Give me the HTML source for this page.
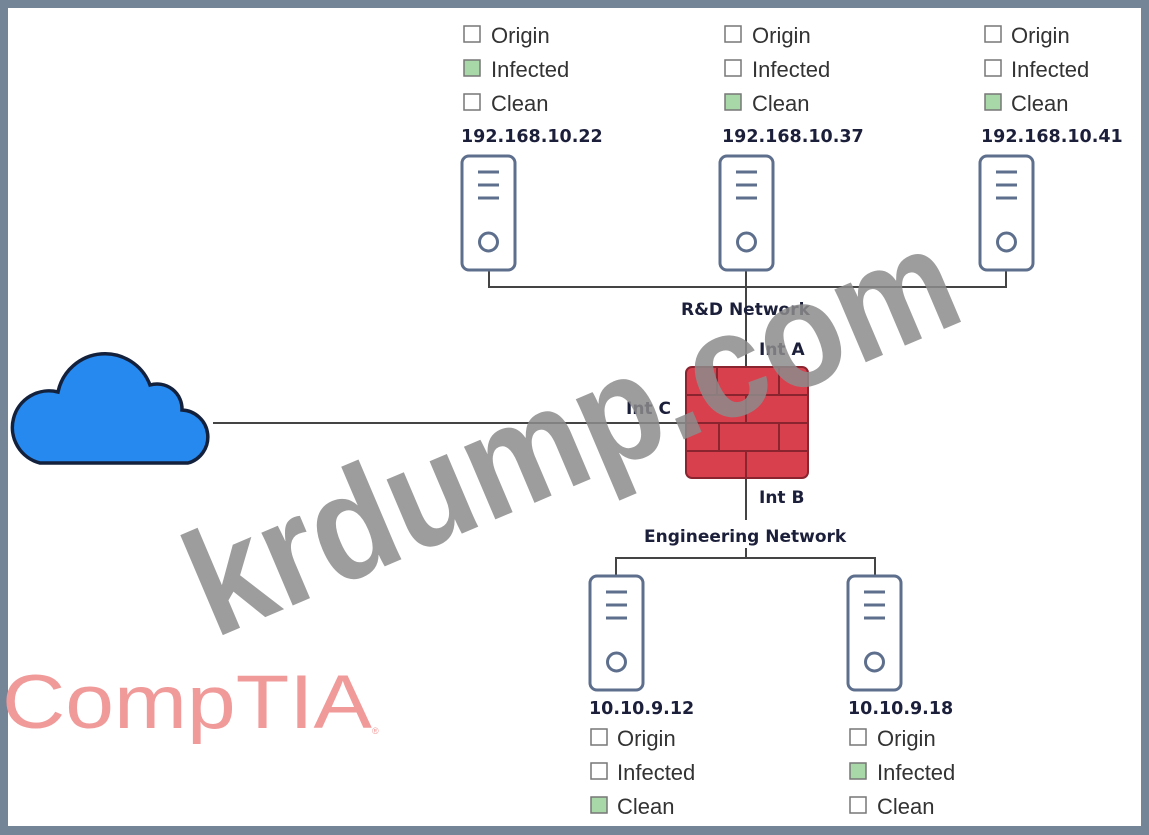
<!DOCTYPE html>
<html><head><meta charset="utf-8"><style>
html,body{margin:0;padding:0;background:#fff}
svg{display:block}
.cb{font-family:"Liberation Sans",sans-serif;font-size:22px;fill:#333}
.ip{font-family:"DejaVu Sans",sans-serif;font-weight:bold;font-size:17.5px;fill:#1c1f3a}
.lb{font-family:"DejaVu Sans",sans-serif;font-weight:bold;font-size:17px;fill:#1c1f3a}
</style></head><body>
<svg width="1149" height="835" viewBox="0 0 1149 835" xmlns="http://www.w3.org/2000/svg">
<rect x="0" y="0" width="1149" height="835" fill="#748597"/>
<rect x="8" y="8" width="1133" height="818" fill="#fff"/>
<defs>
<g id="srv">
<rect x="0" y="0" width="53" height="114" rx="7" fill="#fff" stroke="#5d6f8c" stroke-width="3"/>
<line x1="16" y1="16" x2="37" y2="16" stroke="#5d6f8c" stroke-width="3"/>
<line x1="16" y1="29" x2="37" y2="29" stroke="#5d6f8c" stroke-width="3"/>
<line x1="16" y1="42" x2="37" y2="42" stroke="#5d6f8c" stroke-width="3"/>
<circle cx="26.5" cy="86" r="9" fill="none" stroke="#5d6f8c" stroke-width="3"/>
</g>
<rect id="e" width="16" height="16" fill="#fff" stroke="#777" stroke-width="1.5"/>
<rect id="g" width="16" height="16" fill="#a8d8a8" stroke="#777" stroke-width="1.5"/>
</defs>
<g stroke="#444" stroke-width="2" fill="none">
<polyline points="489,270 489,287 1006,287 1006,270"/>
<line x1="746" y1="270" x2="746" y2="367"/>
<line x1="213" y1="423" x2="688" y2="423"/>
<line x1="746" y1="478" x2="746" y2="520"/>
<line x1="746" y1="548" x2="746" y2="558"/>
<polyline points="616,575 616,558 875,558 875,575"/>
</g>
<use href="#srv" x="462" y="156"/>
<use href="#srv" x="720" y="156"/>
<use href="#srv" x="980" y="156"/>
<use href="#srv" x="590" y="576"/>
<use href="#srv" x="848" y="576"/>
<g>
<rect x="686" y="367" width="122" height="111" rx="6" fill="#d9404e" stroke="#8a2530" stroke-width="2"/>
<g stroke="#8a2530" stroke-width="2">
<line x1="686" y1="395" x2="808" y2="395"/>
<line x1="686" y1="423" x2="808" y2="423"/>
<line x1="686" y1="451" x2="808" y2="451"/>
<line x1="717" y1="367" x2="717" y2="395"/>
<line x1="779" y1="367" x2="779" y2="395"/>
<line x1="746" y1="395" x2="746" y2="423"/>
<line x1="719" y1="423" x2="719" y2="451"/>
<line x1="779" y1="423" x2="779" y2="451"/>
<line x1="746" y1="451" x2="746" y2="478"/>
</g>
</g>
<path d="M40,463 L188,463 A27,27 0 0 0 182,410 A25,25 0 0 0 150,385 A48,48 0 0 0 58,392 A36,36 0 0 0 40,463 Z" fill="#2589f0" stroke="#14213d" stroke-width="3.5"/>
<text class="lb" x="681" y="315">R&amp;D Network</text>
<text class="lb" x="759" y="355">Int A</text>
<text class="lb" x="626" y="414">Int C</text>
<text class="lb" x="759" y="503">Int B</text>
<text class="lb" x="644" y="542">Engineering Network</text>
<use href="#e" x="464" y="26"/><text class="cb" x="491" y="43">Origin</text>
<use href="#g" x="464" y="60"/><text class="cb" x="491" y="77">Infected</text>
<use href="#e" x="464" y="94"/><text class="cb" x="491" y="111">Clean</text>
<text class="ip" x="461" y="142">192.168.10.22</text>
<use href="#e" x="725" y="26"/><text class="cb" x="752" y="43">Origin</text>
<use href="#e" x="725" y="60"/><text class="cb" x="752" y="77">Infected</text>
<use href="#g" x="725" y="94"/><text class="cb" x="752" y="111">Clean</text>
<text class="ip" x="722" y="142">192.168.10.37</text>
<use href="#e" x="985" y="26"/><text class="cb" x="1011" y="43">Origin</text>
<use href="#e" x="985" y="60"/><text class="cb" x="1011" y="77">Infected</text>
<use href="#g" x="985" y="94"/><text class="cb" x="1011" y="111">Clean</text>
<text class="ip" x="981" y="142">192.168.10.41</text>
<text class="ip" x="589" y="714">10.10.9.12</text>
<use href="#e" x="591" y="729"/><text class="cb" x="617" y="746">Origin</text>
<use href="#e" x="591" y="763"/><text class="cb" x="617" y="780">Infected</text>
<use href="#g" x="591" y="797"/><text class="cb" x="617" y="814">Clean</text>
<text class="ip" x="848" y="714">10.10.9.18</text>
<use href="#e" x="850" y="729"/><text class="cb" x="877" y="746">Origin</text>
<use href="#g" x="850" y="763"/><text class="cb" x="877" y="780">Infected</text>
<use href="#e" x="850" y="797"/><text class="cb" x="877" y="814">Clean</text>
<text x="2" y="728" font-family="Liberation Sans,sans-serif" font-size="76" fill="#f09a9a" textLength="370" lengthAdjust="spacingAndGlyphs">CompTIA</text>
<text x="372" y="734" font-family="Liberation Sans,sans-serif" font-size="9" fill="#f09a9a">®</text>
<text x="575" y="482" text-anchor="middle" font-family="Liberation Sans,sans-serif" font-weight="bold" font-size="150" fill="#8c8c8c" fill-opacity="0.85" transform="rotate(-23 575 440)" textLength="820" lengthAdjust="spacingAndGlyphs">krdump.com</text>
</svg>
</body></html>
